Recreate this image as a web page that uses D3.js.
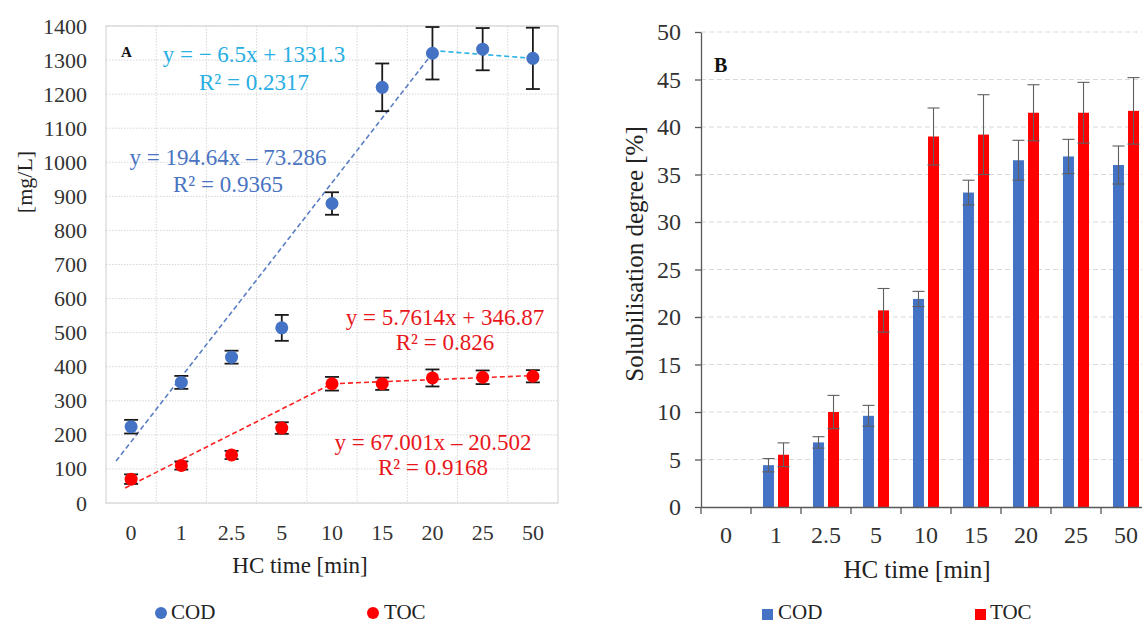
<!DOCTYPE html>
<html><head><meta charset="utf-8">
<script src="https://cdn.jsdelivr.net/npm/d3@7"></script>
<style>
body{margin:0;background:#fff;}
svg{display:block;font-family:"Liberation Serif","Times New Roman",serif;}
</style></head><body>
<svg id="c" width="1142" height="624"></svg>
<script>
// ---------- data ----------
const categories = ["0","1","2.5","5","10","15","20","25","50"];
// panel A: concentrations [mg/L]
const codConc    = [224, 354, 428, 514, 879, 1220, 1320, 1332, 1305];
const codConcErr = [20, 19, 19, 38, 33, 70, 77, 62, 90];
const tocConc    = [70, 110, 141, 220, 350, 350, 367, 369, 372];
const tocConcErr = [14, 12, 12, 17, 20, 18, 25, 20, 18];
const yTicksA = [0,100,200,300,400,500,600,700,800,900,1000,1100,1200,1300,1400];
// trend lines: [category position, value]
const codTrend1 = [[-0.3, 123], [6, 1320]];
const codTrend2 = [[6, 1328], [8, 1305]];
const tocTrend1 = [[-0.12, 44], [4, 350]];
const tocTrend2 = [[4, 350], [8, 374]];
// panel B: solubilisation degree [%]
const codSol    = [0, 4.4, 6.8, 9.6, 21.9, 33.1, 36.5, 36.9, 36.0];
const codSolErr = [0, 0.7, 0.6, 1.1, 0.8, 1.3, 2.1, 1.8, 2.0];
const tocSol    = [0, 5.5, 10.0, 20.7, 39.0, 39.2, 41.5, 41.5, 41.7];
const tocSolErr = [0, 1.25, 1.75, 2.3, 3.0, 4.2, 2.95, 3.2, 3.5];
const yTicksB = [0,5,10,15,20,25,30,35,40,45,50];

const COD_C = "#4472C4", TOC_C = "#FF0000";
const FONT = "'Liberation Serif', 'Times New Roman', serif";
const svg = d3.select("#c");

// ---------- panel A ----------
const A = {left:106, right:558, top:26, bottom:503};
const xA = d3.scaleBand().domain(categories).range([A.left, A.right]);
const xAi = d3.scaleLinear().domain([-0.5, categories.length - 0.5]).range([A.left, A.right]);
const yA = d3.scaleLinear().domain([0, 1400]).range([A.bottom, A.top]);
const cx = c => xA(c) + xA.bandwidth()/2;
const gA = svg.append("g");

gA.selectAll("line.hg").data(yTicksA).join("line")
  .attr("x1", A.left).attr("x2", A.right)
  .attr("y1", d => yA(d)).attr("y2", d => yA(d))
  .attr("stroke", "#d6d6d6").attr("stroke-dasharray", "1.5,1.5");
gA.selectAll("line.vg").data(d3.range(1, categories.length)).join("line")
  .attr("x1", i => xA(categories[i])).attr("x2", i => xA(categories[i]))
  .attr("y1", A.top).attr("y2", A.bottom)
  .attr("stroke", "#d6d6d6").attr("stroke-dasharray", "1.5,1.5");
gA.append("rect").attr("x", A.left).attr("y", A.top)
  .attr("width", A.right - A.left).attr("height", A.bottom - A.top)
  .attr("fill", "none").attr("stroke", "#d0d0d0");

const axA_y = gA.append("g").attr("transform", `translate(${A.left},0)`)
  .call(d3.axisLeft(yA).tickValues(yTicksA).tickFormat(d3.format("d")).tickSize(0).tickPadding(19));
axA_y.select(".domain").remove();
axA_y.attr("font-family", FONT);
axA_y.selectAll("text").attr("font-size", 22).attr("fill", "#333");
const axA_x = gA.append("g").attr("transform", `translate(0,${A.bottom})`)
  .call(d3.axisBottom(xA).tickSize(0).tickPadding(21));
axA_x.select(".domain").remove();
axA_x.attr("font-family", FONT);
axA_x.selectAll("text").attr("font-size", 22).attr("fill", "#333");

const lineA = d3.line().x(d => xAi(d[0])).y(d => yA(d[1]));
const trends = [
  [codTrend1, "#5b7fc4"], [codTrend2, "#2bb3e6"],
  [tocTrend1, "#ff2020"], [tocTrend2, "#ff2020"]
];
trends.forEach(([t, col]) => {
  gA.append("path").attr("d", lineA(t)).attr("fill", "none")
    .attr("stroke", col).attr("stroke-width", 1.6).attr("stroke-dasharray", "5,3");
});

function errA(vals, errs) {
  const g = gA.append("g").attr("stroke", "#1a1a1a").attr("stroke-width", 1.8);
  categories.forEach((c, i) => {
    const x = cx(c), y1 = yA(vals[i] - errs[i]), y2 = yA(vals[i] + errs[i]);
    g.append("line").attr("x1", x).attr("x2", x).attr("y1", y1).attr("y2", y2);
    g.append("line").attr("x1", x - 7).attr("x2", x + 7).attr("y1", y1).attr("y2", y1);
    g.append("line").attr("x1", x - 7).attr("x2", x + 7).attr("y1", y2).attr("y2", y2);
  });
}
errA(codConc, codConcErr);
errA(tocConc, tocConcErr);
gA.selectAll("circle.cod").data(codConc).join("circle")
  .attr("cx", (d, i) => cx(categories[i])).attr("cy", d => yA(d)).attr("r", 6.5).attr("fill", COD_C);
gA.selectAll("circle.toc").data(tocConc).join("circle")
  .attr("cx", (d, i) => cx(categories[i])).attr("cy", d => yA(d)).attr("r", 6.5).attr("fill", TOC_C);

function txt(g, x, y, s, opt) {
  const t = g.append("text").attr("x", x).attr("y", y).text(s)
    .attr("font-family", FONT)
    .attr("font-size", opt.size || 23).attr("fill", opt.fill || "#222")
    .attr("text-anchor", opt.anchor || "middle");
  if (opt.bold) t.attr("font-weight", "bold");
  if (opt.rotate) t.attr("transform", `rotate(-90,${x},${y})`);
  return t;
}
txt(gA, 121, 57, "A", {size: 15, bold: true, anchor: "start", fill: "#111"});
txt(gA, 254, 62, "y = − 6.5x + 1331.3", {fill: "#27aee3"});
txt(gA, 254, 90, "R² = 0.2317", {fill: "#27aee3"});
txt(gA, 228, 165, "y = 194.64x – 73.286", {fill: "#4a74c2"});
txt(gA, 228, 192, "R² = 0.9365", {fill: "#4a74c2"});
txt(gA, 445, 325, "y = 5.7614x + 346.87", {fill: "#e8161b"});
txt(gA, 445, 350, "R² = 0.826", {fill: "#e8161b"});
txt(gA, 433, 450, "y = 67.001x – 20.502", {fill: "#e8161b"});
txt(gA, 433, 475, "R² = 0.9168", {fill: "#e8161b"});
txt(gA, 300, 573, "HC time [min]", {size: 23});
txt(gA, 32, 182, "[mg/L]", {size: 22, rotate: true});
// legend A
gA.append("circle").attr("cx", 161).attr("cy", 613).attr("r", 6).attr("fill", COD_C);
txt(gA, 171, 619, "COD", {size: 21, anchor: "start"});
gA.append("circle").attr("cx", 373).attr("cy", 613).attr("r", 6).attr("fill", TOC_C);
txt(gA, 384, 619, "TOC", {size: 21, anchor: "start"});

// ---------- panel B ----------
const B = {left:701, right:1151, top:32, bottom:507};
const xB = d3.scaleBand().domain(categories).range([B.left, B.right]);
const xB2 = d3.scaleBand().domain(["COD","TOC"]).range([0, 26]).paddingInner(0.27);
const yB = d3.scaleLinear().domain([0, 50]).range([B.bottom, B.top]);
const gB = svg.append("g");
const off = (xB.bandwidth() - 26) / 2;

gB.selectAll("line.hg").data(yTicksB.slice(1)).join("line")
  .attr("x1", B.left).attr("x2", B.right)
  .attr("y1", d => yB(d)).attr("y2", d => yB(d))
  .attr("stroke", "#d9d9d9").attr("stroke-dasharray", "5,3");

const series = [["COD", codSol, codSolErr, COD_C], ["TOC", tocSol, tocSolErr, TOC_C]];
series.forEach(([k, vals, errs, col]) => {
  gB.selectAll(`rect.${k}`).data(vals).join("rect")
    .attr("x", (d, i) => xB(categories[i]) + off + xB2(k))
    .attr("width", xB2.bandwidth())
    .attr("y", d => yB(d)).attr("height", d => yB(0) - yB(d))
    .attr("fill", col);
});
series.forEach(([k, vals, errs]) => {
  const g = gB.append("g").attr("stroke", "#5f5f5f").attr("stroke-width", 1.1);
  vals.forEach((v, i) => {
    if (!errs[i]) return;
    const x = xB(categories[i]) + off + xB2(k) + xB2.bandwidth()/2;
    const y1 = yB(v - errs[i]), y2 = yB(v + errs[i]);
    g.append("line").attr("x1", x).attr("x2", x).attr("y1", y1).attr("y2", y2);
    g.append("line").attr("x1", x - 6).attr("x2", x + 6).attr("y1", y1).attr("y2", y1);
    g.append("line").attr("x1", x - 6).attr("x2", x + 6).attr("y1", y2).attr("y2", y2);
  });
});

const axB_y = gB.append("g").attr("transform", `translate(${B.left},0)`)
  .call(d3.axisLeft(yB).tickValues(yTicksB).tickSize(6).tickSizeOuter(0).tickPadding(14));
axB_y.attr("font-family", FONT);
axB_y.selectAll("line,path").attr("stroke", "#595959").attr("stroke-width", 1.3);
axB_y.selectAll("text").attr("font-size", 24).attr("fill", "#333");
const axB_x = gB.append("g").attr("transform", `translate(0,${B.bottom})`)
  .call(d3.axisBottom(xB).tickSize(0).tickSizeOuter(0).tickPadding(19));
axB_x.attr("font-family", FONT);
axB_x.select(".domain").attr("stroke", "#595959").attr("stroke-width", 1.3);
axB_x.selectAll("text").attr("font-size", 24).attr("fill", "#333");
gB.selectAll("line.xt").data(d3.range(0, categories.length + 1)).join("line")
  .attr("x1", i => B.left + i * xB.step()).attr("x2", i => B.left + i * xB.step())
  .attr("y1", B.bottom).attr("y2", B.bottom + 7)
  .attr("stroke", "#595959").attr("stroke-width", 1.3);

txt(gB, 714, 72, "B", {size: 20, bold: true, anchor: "start", fill: "#111"});
txt(gB, 917, 578, "HC time [min]", {size: 25});
txt(gB, 643, 254, "Solubilisation degree [%]", {size: 25, rotate: true});
gB.append("rect").attr("x", 762).attr("y", 609).attr("width", 11).attr("height", 11).attr("fill", COD_C);
txt(gB, 778, 619, "COD", {size: 21, anchor: "start"});
gB.append("rect").attr("x", 975).attr("y", 609).attr("width", 11).attr("height", 11).attr("fill", TOC_C);
txt(gB, 990, 619, "TOC", {size: 21, anchor: "start"});
</script>
</body></html>
